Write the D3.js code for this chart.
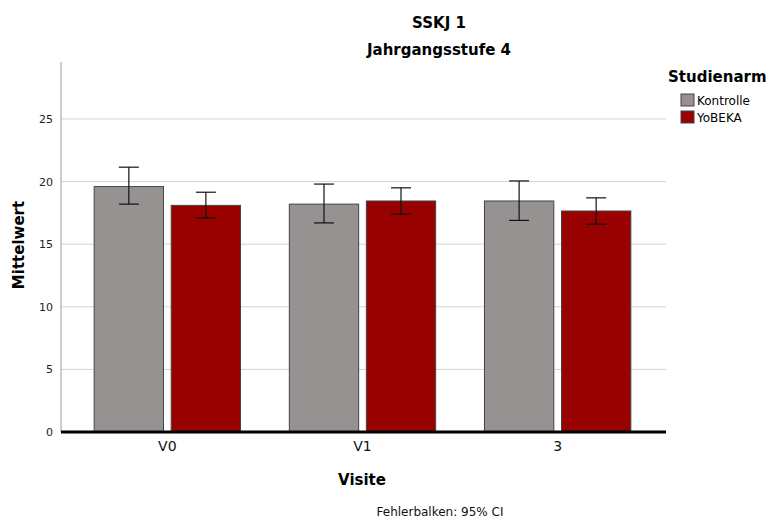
<!DOCTYPE html>
<html>
<head>
<meta charset="utf-8">
<script src="https://cdn.jsdelivr.net/npm/d3@7"></script>
<style>
  body { margin: 0; background: #fff; }
  svg, svg text { font-family: "DejaVu Sans", sans-serif; }
</style>
</head>
<body>
<svg id="chart" width="771" height="523"></svg>
<script>
// ==============================
// DATA
// ==============================
const visits = ["V0", "V1", "3"];
const groups = ["Kontrolle", "YoBEKA"];
const kontrolleMean = [19.6, 18.2, 18.45];
const kontrolleLow = [18.2, 16.7, 16.9];
const kontrolleHigh = [21.15, 19.8, 20.05];
const yobekaMean = [18.1, 18.45, 17.65];
const yobekaLow = [17.1, 17.4, 16.6];
const yobekaHigh = [19.15, 19.5, 18.7];
const yTicks = [0, 5, 10, 15, 20, 25];

const colors = { Kontrolle: "#969291", YoBEKA: "#990000" };

const rows = [];
visits.forEach((v, i) => {
  rows.push({ visit: v, group: "Kontrolle", mean: kontrolleMean[i], lo: kontrolleLow[i], hi: kontrolleHigh[i] });
  rows.push({ visit: v, group: "YoBEKA", mean: yobekaMean[i], lo: yobekaLow[i], hi: yobekaHigh[i] });
});

// ==============================
// LAYOUT
// ==============================
const plot = { left: 61, right: 664, top: 62, bottom: 432 };
const svg = d3.select("#chart");

const x0 = d3.scaleBand().domain(visits).range([plot.left, plot.right])
  .paddingInner(0.25).paddingOuter(0.17);
const x1 = d3.scaleBand().domain(groups).range([0, x0.bandwidth()]).paddingInner(0.1).paddingOuter(0);
const y = d3.scaleLinear().domain([0, 29.55]).range([plot.bottom, plot.top]);

// gridlines
svg.append("g").selectAll("line")
  .data(yTicks.filter(d => d > 0))
  .join("line")
  .attr("x1", plot.left).attr("x2", plot.right + 2)
  .attr("y1", d => y(d)).attr("y2", d => y(d))
  .attr("stroke", "#d4d4d4").attr("stroke-width", 1);

// y axis
const yAxis = svg.append("g")
  .attr("transform", `translate(${plot.left},0)`)
  .call(d3.axisLeft(y).tickValues(yTicks).tickSize(0).tickPadding(8));
yAxis.attr("font-family", null);
yAxis.select(".domain").attr("stroke", "#9a9a9a").attr("d", `M0,${plot.top}V${plot.bottom}`);
yAxis.selectAll("text").attr("font-size", 11).attr("fill", "#222");

// bars
const gBars = svg.append("g");
gBars.selectAll("rect")
  .data(rows)
  .join("rect")
  .attr("x", d => x0(d.visit) + x1(d.group))
  .attr("width", x1.bandwidth())
  .attr("y", d => y(d.mean))
  .attr("height", d => y(0) - y(d.mean))
  .attr("fill", d => colors[d.group])
  .attr("stroke", "#444").attr("stroke-width", 1);

// error bars
const gErr = svg.append("g").attr("stroke", "#111").attr("stroke-width", 1.2);
rows.forEach(d => {
  const cx = x0(d.visit) + x1(d.group) + x1.bandwidth() / 2;
  gErr.append("line").attr("x1", cx).attr("x2", cx).attr("y1", y(d.lo)).attr("y2", y(d.hi));
  gErr.append("line").attr("x1", cx - 10).attr("x2", cx + 10).attr("y1", y(d.lo)).attr("y2", y(d.lo));
  gErr.append("line").attr("x1", cx - 10).attr("x2", cx + 10).attr("y1", y(d.hi)).attr("y2", y(d.hi));
});

// x axis
const xAxis = svg.append("g")
  .attr("transform", `translate(0,${plot.bottom})`)
  .call(d3.axisBottom(x0).tickSize(0).tickPadding(9));
xAxis.attr("font-family", null);
xAxis.select(".domain").attr("stroke", "#000").attr("stroke-width", 3)
  .attr("d", `M${plot.left},0H${plot.right + 2}`);
xAxis.selectAll("text").attr("font-size", 14).attr("fill", "#111");

// ==============================
// TEXTS
// ==============================
svg.append("text").attr("x", 439).attr("y", 28).attr("text-anchor", "middle")
  .attr("font-size", 15).attr("font-weight", "bold").text("SSKJ 1");
svg.append("text").attr("x", 439).attr("y", 55).attr("text-anchor", "middle")
  .attr("font-size", 15).attr("font-weight", "bold").text("Jahrgangsstufe 4");

svg.append("text").attr("transform", "translate(24,245) rotate(-90)")
  .attr("text-anchor", "middle").attr("font-size", 15).attr("font-weight", "bold").text("Mittelwert");

svg.append("text").attr("x", 362).attr("y", 485).attr("text-anchor", "middle")
  .attr("font-size", 15).attr("font-weight", "bold").text("Visite");

svg.append("text").attr("x", 440).attr("y", 516).attr("text-anchor", "middle")
  .attr("font-size", 12).attr("fill", "#111").text("Fehlerbalken: 95% CI");

// legend
const legend = svg.append("g");
legend.append("text").attr("x", 668).attr("y", 82).attr("font-size", 15)
  .attr("font-weight", "bold").text("Studienarm");
groups.forEach((g, i) => {
  legend.append("rect").attr("x", 681).attr("y", 94 + i * 17).attr("width", 13).attr("height", 12)
    .attr("fill", colors[g]).attr("stroke", "#444");
  legend.append("text").attr("x", 697).attr("y", 105 + i * 17).attr("font-size", 12).text(g);
});
</script>
</body>
</html>
